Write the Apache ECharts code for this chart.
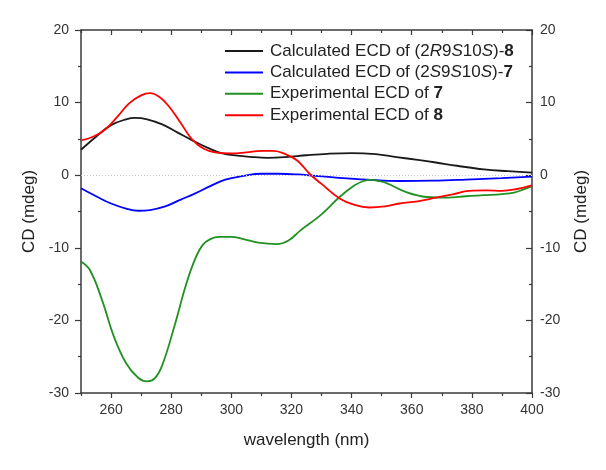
<!DOCTYPE html>
<html><head><meta charset="utf-8">
<script src="https://cdn.jsdelivr.net/npm/echarts@6/dist/echarts.min.js"></script>
<style>html,body{margin:0;padding:0;background:#fff}#c{width:606px;height:470px}</style>
</head><body><div id="c"></div>
<script>
// ---- data ----
const calc8X = [250,255,260,265,268,272,277,282,287,292,297,302,307,312,318,325,332,340,348,355,362,368,375,384,392,400];
const calc8Y = [3.5,5.3,6.9,7.7,7.9,7.7,7.0,5.9,4.8,3.8,3.0,2.7,2.5,2.4,2.5,2.75,2.95,3.05,2.9,2.5,2.1,1.75,1.3,0.8,0.55,0.35];
const calc7X = [250,255,260,265,269,273,278,283,288,293,298,304,310,316,322,328,334,345,356,367,378,390,400];
const calc7Y = [-1.8,-2.9,-3.9,-4.6,-4.9,-4.8,-4.3,-3.4,-2.5,-1.5,-0.6,-0.1,0.2,0.2,0.1,-0.1,-0.3,-0.6,-0.8,-0.75,-0.6,-0.4,-0.2];
const exp7X = [250,253,257,261,265,269,272,274.5,277,281,285,288,290.5,293,296,300,304,309,315,319,323,329.7,336,341,344,346.5,349,352,358,365,372,378,384,390,394,397,400];
const exp7Y = [-11.9,-13.1,-17.2,-22.3,-25.9,-27.9,-28.4,-28.0,-26.2,-20.9,-15.0,-11.5,-9.6,-8.8,-8.5,-8.5,-8.8,-9.3,-9.5,-9.0,-7.6,-5.5,-3.0,-1.4,-0.8,-0.65,-0.8,-1.15,-2.3,-3.0,-3.1,-2.9,-2.75,-2.6,-2.4,-2.0,-1.5];
const exp8X = [250,254,258,262,266,270,273,276,279,283,287,291,295,300,305,310,314,318,322,326,330,336,341,346,351,356,362,368,374,379,385,390,395,400];
const exp8Y = [4.8,5.3,6.3,8.0,9.9,11.0,11.3,10.8,9.6,7.3,4.9,3.6,3.1,3.0,3.15,3.35,3.35,2.9,2.0,0.2,-1.2,-3.2,-4.1,-4.45,-4.3,-3.9,-3.6,-3.1,-2.6,-2.15,-2.1,-2.15,-1.9,-1.4];

const seriesNames = ['calc8','calc7','exp7','exp8'];
const legendTexts = {
  calc8: 'Calculated ECD of (2{i|R}9{i|S}10{i|S})-{b|8}',
  calc7: 'Calculated ECD of (2{i|S}9{i|S}10{i|S})-{b|7}',
  exp7: 'Experimental ECD of {b|7}',
  exp8: 'Experimental ECD of {b|8}'
};
const xMajorTicks = [260,280,300,320,340,360,380,400];
const xMinorTicks = [250,270,290,310,330,350,370,390];
const xTitle = 'wavelength (nm)';
const yTitle = 'CD (mdeg)';

const zip = (xs, ys) => xs.map((x, i) => [x, ys[i]]);
const FONT = 'Liberation Sans, Arial, sans-serif';
const axisCol = '#3a3a3a';

const chart = echarts.init(document.getElementById('c'));
const xBase = { type: 'value', min: 250, max: 400, splitLine: { show: false } };
const yBase = { type: 'value', min: -30, max: 20, interval: 10, splitLine: { show: false } };

chart.setOption({
  animation: false,
  backgroundColor: '#fff',
  grid: { left: 81, right: 74, top: 30, bottom: 77 },
  legend: {
    orient: 'vertical', left: 225, top: 42.5, padding: 0,
    icon: 'rect', itemWidth: 38, itemHeight: 2, itemGap: 4.4,
    data: seriesNames,
    formatter: n => legendTexts[n],
    textStyle: {
      fontFamily: FONT, fontSize: 17, color: '#222', padding: [0, 0, 0, 2],
      rich: {
        i: { fontFamily: FONT, fontSize: 17, fontStyle: 'italic', color: '#222' },
        b: { fontFamily: FONT, fontSize: 17, fontWeight: 'bold', color: '#222' }
      }
    }
  },
  xAxis: [
    Object.assign({}, xBase, {
      position: 'bottom',
      name: xTitle, nameLocation: 'middle', nameGap: 39,
      nameTextStyle: { fontFamily: FONT, fontSize: 17, color: '#222' },
      axisLine: { show: true, onZero: false, lineStyle: { color: axisCol, width: 1.5 } },
      axisTick: { show: true, length: 5, customValues: xMajorTicks, lineStyle: { color: axisCol, width: 1.2 } },
      axisLabel: { customValues: xMajorTicks, margin: 10, fontFamily: FONT, fontSize: 14, color: '#333' }
    }),
    Object.assign({}, xBase, {
      position: 'bottom',
      axisLine: { show: false, onZero: false },
      axisTick: { show: true, length: 3, customValues: xMinorTicks, lineStyle: { color: axisCol, width: 1.2 } },
      axisLabel: { show: false }
    }),
    Object.assign({}, xBase, {
      position: 'top',
      axisLine: { show: true, onZero: false, lineStyle: { color: axisCol, width: 1.5 } },
      axisTick: { show: true, inside: true, length: 5, customValues: xMajorTicks, lineStyle: { color: axisCol, width: 1.2 } },
      axisLabel: { show: false }
    }),
    Object.assign({}, xBase, {
      position: 'top',
      axisLine: { show: false, onZero: false },
      axisTick: { show: true, inside: true, length: 3, customValues: xMinorTicks, lineStyle: { color: axisCol, width: 1.2 } },
      axisLabel: { show: false }
    })
  ],
  yAxis: [
    Object.assign({}, yBase, {
      position: 'left',
      name: yTitle, nameLocation: 'middle', nameGap: 38,
      nameTextStyle: { fontFamily: FONT, fontSize: 17, color: '#222' },
      axisLine: { show: true, onZero: false, lineStyle: { color: axisCol, width: 1.5 } },
      axisTick: { show: true, length: 6, lineStyle: { color: axisCol, width: 1.2 } },
      minorTick: { show: true, splitNumber: 2, length: 3, lineStyle: { color: axisCol, width: 1.2 } },
      axisLabel: { margin: 12, fontFamily: FONT, fontSize: 14, color: '#333' }
    }),
    Object.assign({}, yBase, {
      position: 'right',
      name: yTitle, nameLocation: 'middle', nameGap: 41,
      nameTextStyle: { fontFamily: FONT, fontSize: 17, color: '#222' },
      axisLine: { show: true, onZero: false, lineStyle: { color: axisCol, width: 1.5 } },
      axisTick: { show: true, inside: true, length: 6, lineStyle: { color: axisCol, width: 1.2 } },
      minorTick: { show: true, splitNumber: 2, length: 3, lineStyle: { color: axisCol, width: 1.2 } },
      axisLabel: { margin: 8, fontFamily: FONT, fontSize: 14, color: '#333' }
    })
  ],
  series: [
    { name: 'calc8', type: 'line', smooth: 0.4, symbol: 'none', data: zip(calc8X, calc8Y),
      color: '#1a1a1a', lineStyle: { color: '#1a1a1a', width: 1.8 },
      markLine: { silent: true, symbol: ['none','none'], label: { show: false },
        emphasis: { disabled: true },
        lineStyle: { color: '#c8c8c8', type: [1, 2], width: 1, opacity: 1 }, data: [{ yAxis: 0 }] } },
    { name: 'calc7', type: 'line', smooth: 0.4, symbol: 'none', data: zip(calc7X, calc7Y),
      color: '#0000ff', lineStyle: { color: '#0000ff', width: 1.8 } },
    { name: 'exp7', type: 'line', smooth: 0.4, symbol: 'none', data: zip(exp7X, exp7Y),
      color: '#219121', lineStyle: { color: '#219121', width: 1.8 } },
    { name: 'exp8', type: 'line', smooth: 0.4, symbol: 'none', data: zip(exp8X, exp8Y),
      color: '#ff0000', lineStyle: { color: '#ff0000', width: 1.8 } }
  ]
});
</script></body></html>
